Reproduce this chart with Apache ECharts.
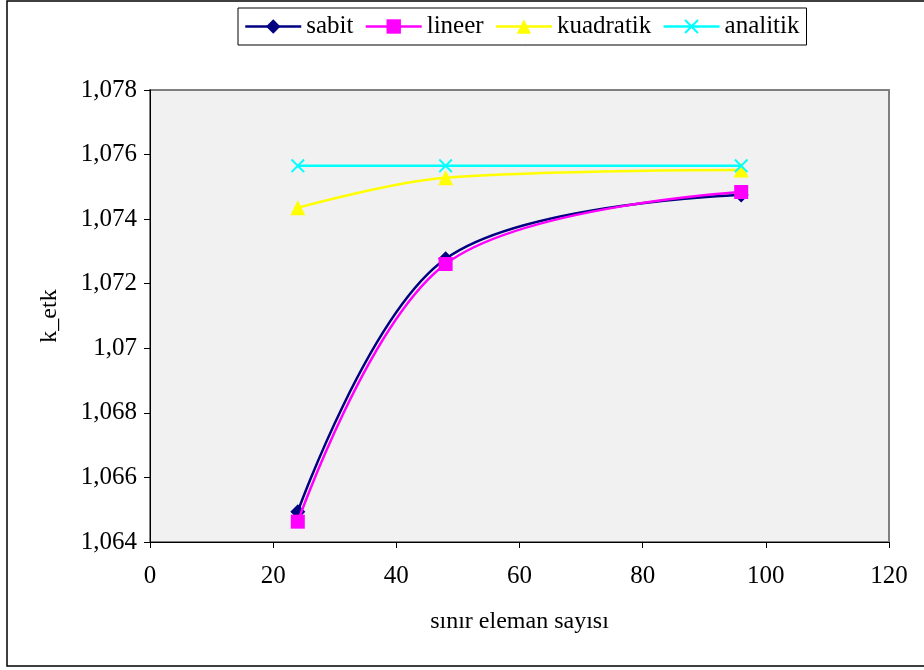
<!DOCTYPE html>
<html>
<head>
<meta charset="utf-8">
<script src="https://cdn.jsdelivr.net/npm/echarts@6/dist/echarts.min.js"></script>
<style>
  html, body { margin: 0; padding: 0; background: #fff; }
  #chart { width: 924px; height: 670px; }
</style>
</head>
<body>
<div id="chart"></div>
<script>
// Number of boundary elements
const elemanSayisi = [24, 48, 96];
// Effective k for each approach
const sabit     = [1.06494, 1.07277, 1.07475];
const lineer    = [1.06463, 1.07261, 1.07484];
const kuadratik = [1.07435, 1.07528, 1.07552];
const analitik  = [1.07565, 1.07565, 1.07565];

const seriesNames = ['sabit', 'lineer', 'kuadratik', 'analitik'];
const seriesData = [sabit, lineer, kuadratik, analitik];
const seriesColors = ['#000080', '#ff00ff', '#ffff00', '#00ffff'];
const crossPath = 'path://M0,1L1,0L5,4L9,0L10,1L6,5L10,9L9,10L5,6L1,10L0,9L4,5Z';
const seriesSymbols = ['diamond', 'rect', 'triangle', crossPath];
const symbolSizes = [15, 14, 15, 14];

const font = 'Liberation Serif';

const chart = echarts.init(document.getElementById('chart'), null, { renderer: 'canvas' });

const fmtComma = v => {
  let s = Number(v).toFixed(3).replace(/0+$/, '').replace(/\.$/, '');
  return s.replace('.', ',');
};

chart.setOption({
  animation: false,
  backgroundColor: '#ffffff',
  textStyle: { fontFamily: font },
  graphic: [{
    type: 'rect',
    shape: { x: 7, y: 1, width: 940, height: 665 },
    style: { fill: 'none', stroke: '#000', lineWidth: 1.5 },
    silent: true
  }],
  legend: {
    data: seriesNames,
    top: 8,
    left: 238,
    padding: [6, 7, 6, 6],
    borderColor: '#000',
    borderWidth: 1,
    itemWidth: 56,
    itemHeight: 18,
    itemGap: 11,
    lineStyle: { width: 2.5 },
    textStyle: { fontFamily: font, fontSize: 25, color: '#000' }
  },
  grid: {
    left: 150, right: 35, top: 90, bottom: 128,
    show: true,
    backgroundColor: '#f1f1f1',
    borderColor: '#808080',
    borderWidth: 2
  },
  xAxis: {
    type: 'value',
    min: 0, max: 120, interval: 20,
    name: 'sınır eleman sayısı',
    nameLocation: 'middle',
    nameGap: 68,
    nameTextStyle: { fontFamily: font, fontSize: 24, color: '#000' },
    axisLine: { lineStyle: { color: '#000', width: 1 } },
    axisTick: { show: true, inside: false, length: 6, lineStyle: { color: '#000' } },
    axisLabel: { fontFamily: font, fontSize: 25, color: '#000', margin: 22 },
    splitLine: { show: false }
  },
  yAxis: {
    type: 'value',
    min: 1.064, max: 1.078, interval: 0.002,
    name: 'k_etk',
    nameLocation: 'middle',
    nameGap: 88,
    nameTextStyle: { fontFamily: font, fontSize: 24, color: '#000' },
    axisLine: { show: true, lineStyle: { color: '#000', width: 1 } },
    axisTick: { show: true, inside: false, length: 6, lineStyle: { color: '#000' } },
    axisLabel: { fontFamily: font, fontSize: 25, color: '#000', margin: 13, formatter: fmtComma },
    splitLine: { show: false }
  },
  series: seriesNames.map((name, i) => ({
    name: name,
    type: 'line',
    smooth: 0.35,
    data: elemanSayisi.map((x, j) => [x, seriesData[i][j]]),
    symbol: seriesSymbols[i],
    symbolSize: symbolSizes[i],
    lineStyle: { color: seriesColors[i], width: 2.5 },
    itemStyle: { color: seriesColors[i] },
    z: 2 + i
  }))
});
</script>
</body>
</html>
